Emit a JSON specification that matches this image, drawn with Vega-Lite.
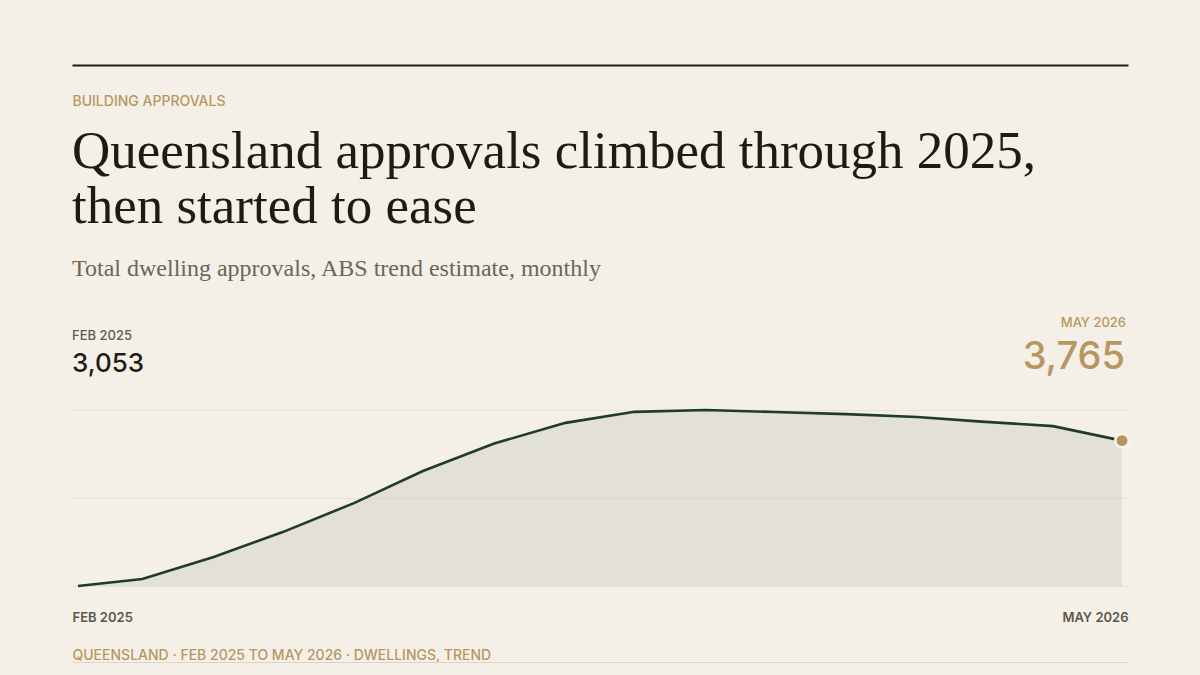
{
  "$schema": "https://vega.github.io/schema/vega-lite/v6.json",
  "background": "#f4f0e8",
  "padding": {"left": 71, "right": 73, "top": 64, "bottom": 14},
  "config": {"view": {"stroke": null}},
  "datasets": {
    "approvals": [
      {"month": "2025-02-01T00:00:00", "value": 3053},
      {"month": "2025-03-01T00:00:00", "value": 3087},
      {"month": "2025-04-01T00:00:00", "value": 3195},
      {"month": "2025-05-01T00:00:00", "value": 3317},
      {"month": "2025-06-01T00:00:00", "value": 3459},
      {"month": "2025-07-01T00:00:00", "value": 3616},
      {"month": "2025-08-01T00:00:00", "value": 3751},
      {"month": "2025-09-01T00:00:00", "value": 3852},
      {"month": "2025-10-01T00:00:00", "value": 3906},
      {"month": "2025-11-01T00:00:00", "value": 3915},
      {"month": "2025-12-01T00:00:00", "value": 3905},
      {"month": "2026-01-01T00:00:00", "value": 3895},
      {"month": "2026-02-01T00:00:00", "value": 3881},
      {"month": "2026-03-01T00:00:00", "value": 3858},
      {"month": "2026-04-01T00:00:00", "value": 3836},
      {"month": "2026-05-01T00:00:00", "value": 3765}
    ]
  },
  "spacing": 18,
  "vconcat": [
    {
      "width": 1056,
      "height": 1,
      "data": {"name": "approvals"},
      "mark": {"type": "tick", "opacity": 0},
      "encoding": {
        "x": {
          "field": "month",
          "type": "temporal",
          "axis": {
            "orient": "bottom",
            "domain": true,
            "domainColor": "#1e1b16",
            "domainWidth": 2,
            "labels": false,
            "ticks": false,
            "grid": false,
            "title": "BUILDING APPROVALS",
            "titleAnchor": "start",
            "titleAlign": "left",
            "titlePadding": 29,
            "titleFont": "Inter",
            "titleFontSize": 14,
            "titleFontWeight": 500,
            "titleColor": "#b8965f",
            "titleBaseline": "top"
          }
        }
      }
    },
    {
      "spacing": 0,
      "vconcat": [
        {
          "width": 1056,
          "height": 176,
          "title": {
            "text": ["Queensland approvals climbed through 2025,", "then started to ease"],
            "subtitle": "Total dwelling approvals, ABS trend estimate, monthly",
            "anchor": "start",
            "frame": "group",
            "font": "Liberation Serif",
            "fontSize": 53,
            "fontWeight": 400,
            "color": "#1e1b16",
            "lineHeight": 55,
            "subtitleFont": "Liberation Serif",
            "subtitleFontSize": 24,
            "subtitleColor": "#6b6559",
            "subtitlePadding": 23,
            "offset": 36
          },
          "data": {"name": "approvals"},
          "encoding": {
            "x": {
              "field": "month",
              "type": "temporal",
              "scale": {"padding": 6},
              "axis": {
                "values": [
                  {"year": 2025, "month": "feb", "date": 1},
                  {"year": 2026, "month": "may", "date": 1}
                ],
                "labelExpr": "upper(timeFormat(datum.value, '%b %Y'))",
                "labelAlign": {"condition": {"test": "datum.index < 0.5", "value": "left"}, "value": "right"},
                "labelOffset": {"condition": {"test": "datum.index < 0.5", "value": -6}, "value": 6},
                "labelPadding": 25,
                "labelFont": "Inter",
                "labelFontSize": 13,
                "labelFontWeight": 600,
                "labelColor": "#5c574d",
                "labelBaseline": "top",
                "domain": false,
                "ticks": false,
                "grid": false,
                "title": "QUEENSLAND · FEB 2025 TO MAY 2026 · DWELLINGS, TREND",
                "titleAnchor": "start",
                "titleAlign": "left",
                "titlePadding": 24,
                "titleFont": "Inter",
                "titleFontSize": 14,
                "titleFontWeight": 500,
                "titleColor": "#b8965f",
                "titleBaseline": "top"
              }
            }
          },
          "layer": [
            {
              "mark": {"type": "area", "color": "#c9c8be", "opacity": 0.4},
              "encoding": {
                "y": {
                  "field": "value",
                  "type": "quantitative",
                  "scale": {"domain": [3053, 3915], "zero": false, "nice": false},
                  "axis": {
                    "values": [3053, 3484, 3915],
                    "grid": true,
                    "gridColor": "#e8e2d4",
                    "gridWidth": 1,
                    "labels": false,
                    "ticks": false,
                    "domain": false,
                    "title": null
                  }
                },
                "y2": {"datum": 3053}
              }
            },
            {
              "mark": {"type": "line", "color": "#1f3a30", "strokeWidth": 2.6},
              "encoding": {"y": {"field": "value", "type": "quantitative"}}
            },
            {
              "transform": [{"filter": {"field": "month", "equal": {"year": 2026, "month": "may", "date": 1}}}],
              "mark": {"type": "point", "filled": true, "size": 180, "color": "#b8955f", "stroke": "#f8f5ef", "strokeWidth": 2.5, "opacity": 1},
              "encoding": {"y": {"field": "value", "type": "quantitative"}}
            },
            {
              "transform": [
                {"filter": {"field": "month", "equal": {"year": 2025, "month": "feb", "date": 1}}},
                {"calculate": "upper(timeFormat(datum.month, '%b %Y'))", "as": "label"}
              ],
              "mark": {"type": "text", "align": "left", "baseline": "alphabetic", "dx": -6, "dy": -70, "font": "Inter", "fontSize": 13, "fontWeight": 500, "color": "#5f5a50"},
              "encoding": {"y": {"datum": 3915}, "text": {"field": "label"}}
            },
            {
              "transform": [{"filter": {"field": "month", "equal": {"year": 2025, "month": "feb", "date": 1}}}],
              "mark": {"type": "text", "align": "left", "baseline": "alphabetic", "dx": -6, "dy": -38, "font": "Inter", "fontSize": 26, "fontWeight": 500, "color": "#1e1b16"},
              "encoding": {"y": {"datum": 3915}, "text": {"field": "value", "type": "quantitative", "format": ","}}
            },
            {
              "transform": [
                {"filter": {"field": "month", "equal": {"year": 2026, "month": "may", "date": 1}}},
                {"calculate": "upper(timeFormat(datum.month, '%b %Y'))", "as": "label"}
              ],
              "mark": {"type": "text", "align": "right", "baseline": "alphabetic", "dx": 4, "dy": -83, "font": "Inter", "fontSize": 13, "fontWeight": 500, "color": "#b8965f"},
              "encoding": {"y": {"datum": 3915}, "text": {"field": "label"}}
            },
            {
              "transform": [{"filter": {"field": "month", "equal": {"year": 2026, "month": "may", "date": 1}}}],
              "mark": {"type": "text", "align": "right", "baseline": "alphabetic", "dx": 3, "dy": -41, "font": "Inter", "fontSize": 38, "fontWeight": 500, "color": "#b8965f"},
              "encoding": {"y": {"datum": 3915}, "text": {"field": "value", "type": "quantitative", "format": ","}}
            }
          ]
        },
        {
          "width": 1056,
          "height": 1,
          "data": {"name": "approvals"},
          "mark": {"type": "tick", "opacity": 0},
          "encoding": {
            "x": {
              "field": "month",
              "type": "temporal",
              "axis": {
                "orient": "top",
                "domain": true,
                "domainColor": "#ddd5c4",
                "domainWidth": 1,
                "labels": false,
                "ticks": false,
                "grid": false,
                "title": null
              }
            }
          }
        }
      ]
    }
  ]
}
